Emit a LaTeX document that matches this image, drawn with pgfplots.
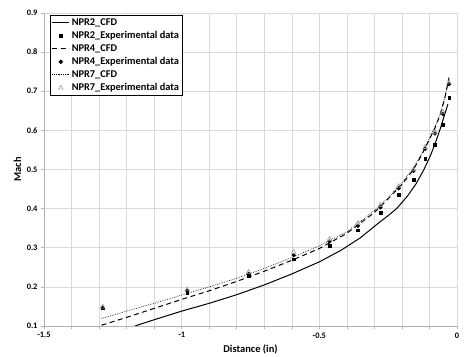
\documentclass[border=0pt]{standalone}
\usepackage{pgfplots}
\pgfplotsset{compat=1.18}
\usepackage{fontspec}
\setmainfont{Carlito}
\begin{document}
\begin{tikzpicture}
\begin{axis}[
  scale only axis,
  width=413bp, height=313bp,
  xmin=-1.5, xmax=0, ymin=0.1, ymax=0.9,
  xtick={-1.5,-1,-0.5,0},
  minor xtick={-1.4,-1.3,-1.2,-1.1,-0.9,-0.8,-0.7,-0.6,-0.4,-0.3,-0.2,-0.1},
  ytick={0.1,0.2,0.3,0.4,0.5,0.6,0.7,0.8,0.9},
  yticklabel style={/pgf/number format/fixed,/pgf/number format/precision=1,/pgf/number format/fixed zerofill},
  /pgf/number format/assume math mode=true,
  grid=both,
  major grid style={gray!30, line width=0.6pt},
  minor grid style={gray!30, line width=0.6pt},
  axis x line*=bottom, axis y line*=left,
  axis line style={-, gray!60, line width=0.6pt},
  tick style={gray!60, line width=0.6pt},
  tick align=outside,
  major tick length=3bp, minor tick length=3bp,
  ticklabel style={font=\fontsize{8.4}{9}\selectfont\bfseries},
  xlabel={Distance (in)}, ylabel={Mach},
  label style={font=\fontsize{10.5}{12}\selectfont\bfseries},
  xlabel style={at={(axis description cs:0.5,-0.0735)}, anchor=center},
  ylabel style={at={(axis description cs:-0.064,0.5)}, anchor=center},
  legend style={at={(axis description cs:0.0145,0.994)}, anchor=north west,
    draw=black, line width=0.6pt, fill=white,
    font=\fontsize{10.4}{11}\selectfont\bfseries,
    row sep=0.5pt, inner sep=1.5pt,
    /tikz/every even column/.append style={column sep=5bp}},
  legend cell align=left,
]
\addplot[black, line width=1pt] coordinates {
(-1.17,0.100) (-1.10,0.116) (-1.00,0.138) (-0.90,0.158) (-0.80,0.180)
(-0.70,0.205) (-0.60,0.233) (-0.50,0.264) (-0.42,0.294) (-0.35,0.326)
(-0.28,0.366) (-0.25,0.382) (-0.218,0.401) (-0.18,0.432) (-0.15,0.462)
(-0.12,0.500) (-0.095,0.538) (-0.075,0.575) (-0.058,0.610) (-0.045,0.640)
(-0.037,0.658) (-0.033,0.667)
};
\addlegendentry{NPR2\_CFD}
\addplot[only marks, mark=square*, mark size=1.3bp, black] coordinates {
(-1.287,0.145) (-0.980,0.185) (-0.757,0.228) (-0.593,0.271) (-0.463,0.306)
(-0.360,0.345) (-0.278,0.389) (-0.212,0.435) (-0.158,0.474) (-0.116,0.528)
(-0.080,0.564) (-0.051,0.614) (-0.029,0.683)
};
\addlegendentry{NPR2\_Experimental data}
\addplot[black, line width=1pt, dash pattern=on 5bp off 3.5bp] coordinates {
(-1.291,0.102) (-1.20,0.122) (-1.10,0.145) (-1.00,0.168) (-0.90,0.190)
(-0.80,0.214) (-0.70,0.240) (-0.60,0.268) (-0.50,0.298) (-0.40,0.337)
(-0.30,0.390) (-0.25,0.425) (-0.20,0.462) (-0.16,0.498) (-0.13,0.535)
(-0.110,0.563) (-0.08,0.606) (-0.061,0.640) (-0.045,0.680) (-0.029,0.735)
};
\addlegendentry{NPR4\_CFD}
\addplot[only marks, mark=*, mark size=1.9bp, black] coordinates {
(-1.287,0.147) (-0.980,0.190) (-0.757,0.233) (-0.593,0.281) (-0.463,0.316)
(-0.360,0.356) (-0.278,0.403) (-0.212,0.452) (-0.158,0.496) (-0.116,0.553)
(-0.080,0.592) (-0.051,0.642) (-0.029,0.718)
};
\addlegendentry{NPR4\_Experimental data}
\addplot[black, line width=0.7pt, dash pattern=on 0.6bp off 1.2bp] coordinates {
(-1.291,0.119) (-1.20,0.138) (-1.10,0.158) (-1.00,0.179) (-0.90,0.200)
(-0.80,0.222) (-0.70,0.247) (-0.60,0.275) (-0.50,0.305) (-0.40,0.341)
(-0.30,0.395) (-0.25,0.428) (-0.20,0.466) (-0.16,0.502) (-0.13,0.538)
(-0.11,0.566) (-0.08,0.609) (-0.061,0.643) (-0.045,0.682) (-0.031,0.728)
};
\addlegendentry{NPR7\_CFD}
\addplot[only marks, mark=triangle, mark size=2.6bp, gray!80, mark options={line width=0.6pt}] coordinates {
(-1.287,0.149) (-0.980,0.193) (-0.757,0.238) (-0.593,0.289) (-0.463,0.322)
(-0.360,0.363) (-0.278,0.409) (-0.212,0.457) (-0.158,0.500) (-0.116,0.557)
(-0.080,0.596) (-0.051,0.647) (-0.029,0.722)
};
\addlegendentry{NPR7\_Experimental data}
\end{axis}
\pgfresetboundingbox
\path ([xshift=-44bp,yshift=-31bp]current axis.south west) rectangle ([xshift=7bp,yshift=13bp]current axis.north east);
\end{tikzpicture}
\end{document}
